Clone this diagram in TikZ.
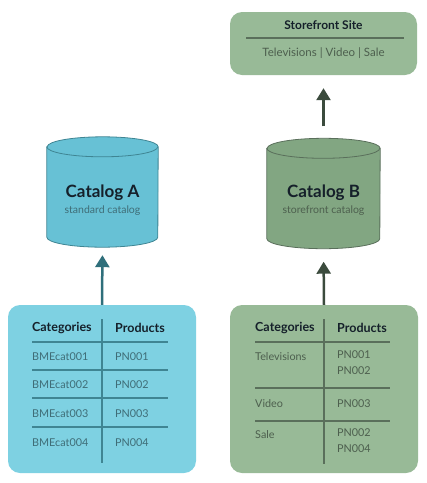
\documentclass[tikz,border=0pt]{standalone}
\usepackage{fontspec}
\setmainfont{Lato}
\usetikzlibrary{arrows.meta}
\definecolor{bluebox}{HTML}{7ED1E2}
\definecolor{bluecyl}{HTML}{67C1D5}
\definecolor{blueline}{HTML}{3F8593}
\definecolor{bluetext}{HTML}{3F6D77}
\definecolor{bluearrow}{HTML}{2F6F7B}
\definecolor{greenbox}{HTML}{98BA97}
\definecolor{greencyl}{HTML}{82A682}
\definecolor{greenline}{HTML}{5A6F5B}
\definecolor{greentext}{HTML}{4D5F4E}
\definecolor{greenarrow}{HTML}{3B4B3D}
\definecolor{darktext}{HTML}{15202A}
% cylinder round an empty node: #1 node, #2 fill, #3 outline, #4 half width
\newcommand{\drawcyl}[4]{
  \filldraw [fill=#2, draw=#3, line width=0.8pt]
    ([yshift=-10pt]#1.north west) -- ([yshift=10pt]#1.south west)
    arc[start angle=180, end angle=360, x radius=#4, y radius=10pt]
    -- ([yshift=-10pt]#1.north east)
    arc[start angle=0, end angle=180, x radius=#4, y radius=10pt] -- cycle;
  \draw [draw=#3, line width=0.8pt] ([yshift=-10pt]#1.north west)
    arc[start angle=180, end angle=360, x radius=#4, y radius=10pt];
}
\tikzset{
  box/.style={draw=none, rounded corners=12pt},
  cylframe/.style={minimum width=#1, minimum height=110pt},
  cyltitle/.style={font=\bfseries\fontsize{17}{20}\selectfont, text=darktext},
  cylsub/.style={font=\fontsize{10.5}{12}\selectfont},
  head/.style={anchor=west, font=\bfseries\fontsize{12.5}{14}\selectfont, text=darktext},
  cell/.style={anchor=west, font=\fontsize{10.8}{16}\selectfont, align=left},
  rule/.style={line width=1.5pt},
  flow/.style={line width=2.5pt, -{Triangle[length=12pt,width=14pt]}}
}
\begin{document}
\begin{tikzpicture}[x=1pt,y=1pt]
\tikzstyle{every node}+=[inner sep=0pt]
\useasboundingbox (0,0) rectangle (427,-483);
% left side
\node (tabA) [box, fill=bluebox, minimum width=188pt, minimum height=168pt] at (102,-389) {};
\node (catA) [cylframe=111pt] at (102.5,-192) {};
\drawcyl{catA}{bluecyl}{blueline}{55.5pt}
\node (catAT) [cyltitle] at (102.5,-193) {Catalog A};
\node (catAS) [cylsub, text=bluetext] at (102.5,-211) {standard catalog};
\node (hcatA) [head] at (32,-328) {Categories};
\node (hprodA) [head] at (115,-328) {Products};
\draw [rule, blueline] (102,-319) -- (102,-463);
\foreach \i/\y in {1/-357,2/-385,3/-414,4/-443} {
  \node (cA\i) [cell, text=bluetext] at (32,\y) {BMEcat00\i};
  \node (pA\i) [cell, text=bluetext] at (115,\y) {PN00\i};
}
\foreach \y in {-342,-370,-398,-427}
  \draw [rule, blueline] (32,\y) -- (168,\y);
\draw [flow, bluearrow, shorten >=8pt] (tabA.north) -- (catA.south);
% right side
\node (tabB) [box, fill=greenbox, minimum width=188pt, minimum height=168pt] at (324,-389) {};
\node (catB) [cylframe=113pt] at (323.5,-193.5) {};
\drawcyl{catB}{greencyl}{greenline}{56.5pt}
\node (catBT) [cyltitle] at (323.5,-193) {Catalog B};
\node (catBS) [cylsub, text=greentext] at (323.5,-211) {storefront catalog};
\node (site) [box, fill=greenbox, minimum width=187pt, minimum height=63pt] at (323.5,-43.5) {};
\node (siteT) [font=\bfseries\fontsize{12}{14}\selectfont, text=darktext] at (323.5,-25) {Storefront Site};
\draw [line width=1.2pt, greenline] (246,-38) -- (404,-38);
\node (siteC) [font=\fontsize{11.5}{13}\selectfont, text=greentext] at (323.5,-53) {Televisions | Video | Sale};
\node (hcatB) [head] at (255,-328) {Categories};
\node (hprodB) [head] at (337,-328) {Products};
\draw [rule, greenline] (324,-319) -- (324,-464);
\foreach \y in {-342,-388,-421}
  \draw [rule, greenline] (255,\y) -- (390,\y);
\node (cB1) [cell, text=greentext] at (255,-357) {Televisions};
\node (pB1) [cell, text=greentext, anchor=north west] at (337,-350) {PN001\\PN002};
\node (cB2) [cell, text=greentext] at (255,-404) {Video};
\node (pB2) [cell, text=greentext] at (337,-404) {PN003};
\node (cB3) [cell, text=greentext] at (255,-435) {Sale};
\node (pB3) [cell, text=greentext, anchor=north west] at (337,-428) {PN002\\PN004};
\draw [flow, greenarrow, shorten >=13pt] (tabB.north) -- (catB.south);
\draw [flow, greenarrow, shorten <=12pt, shorten >=13pt] (catB.north) -- (site.south);
\end{tikzpicture}
\end{document}
